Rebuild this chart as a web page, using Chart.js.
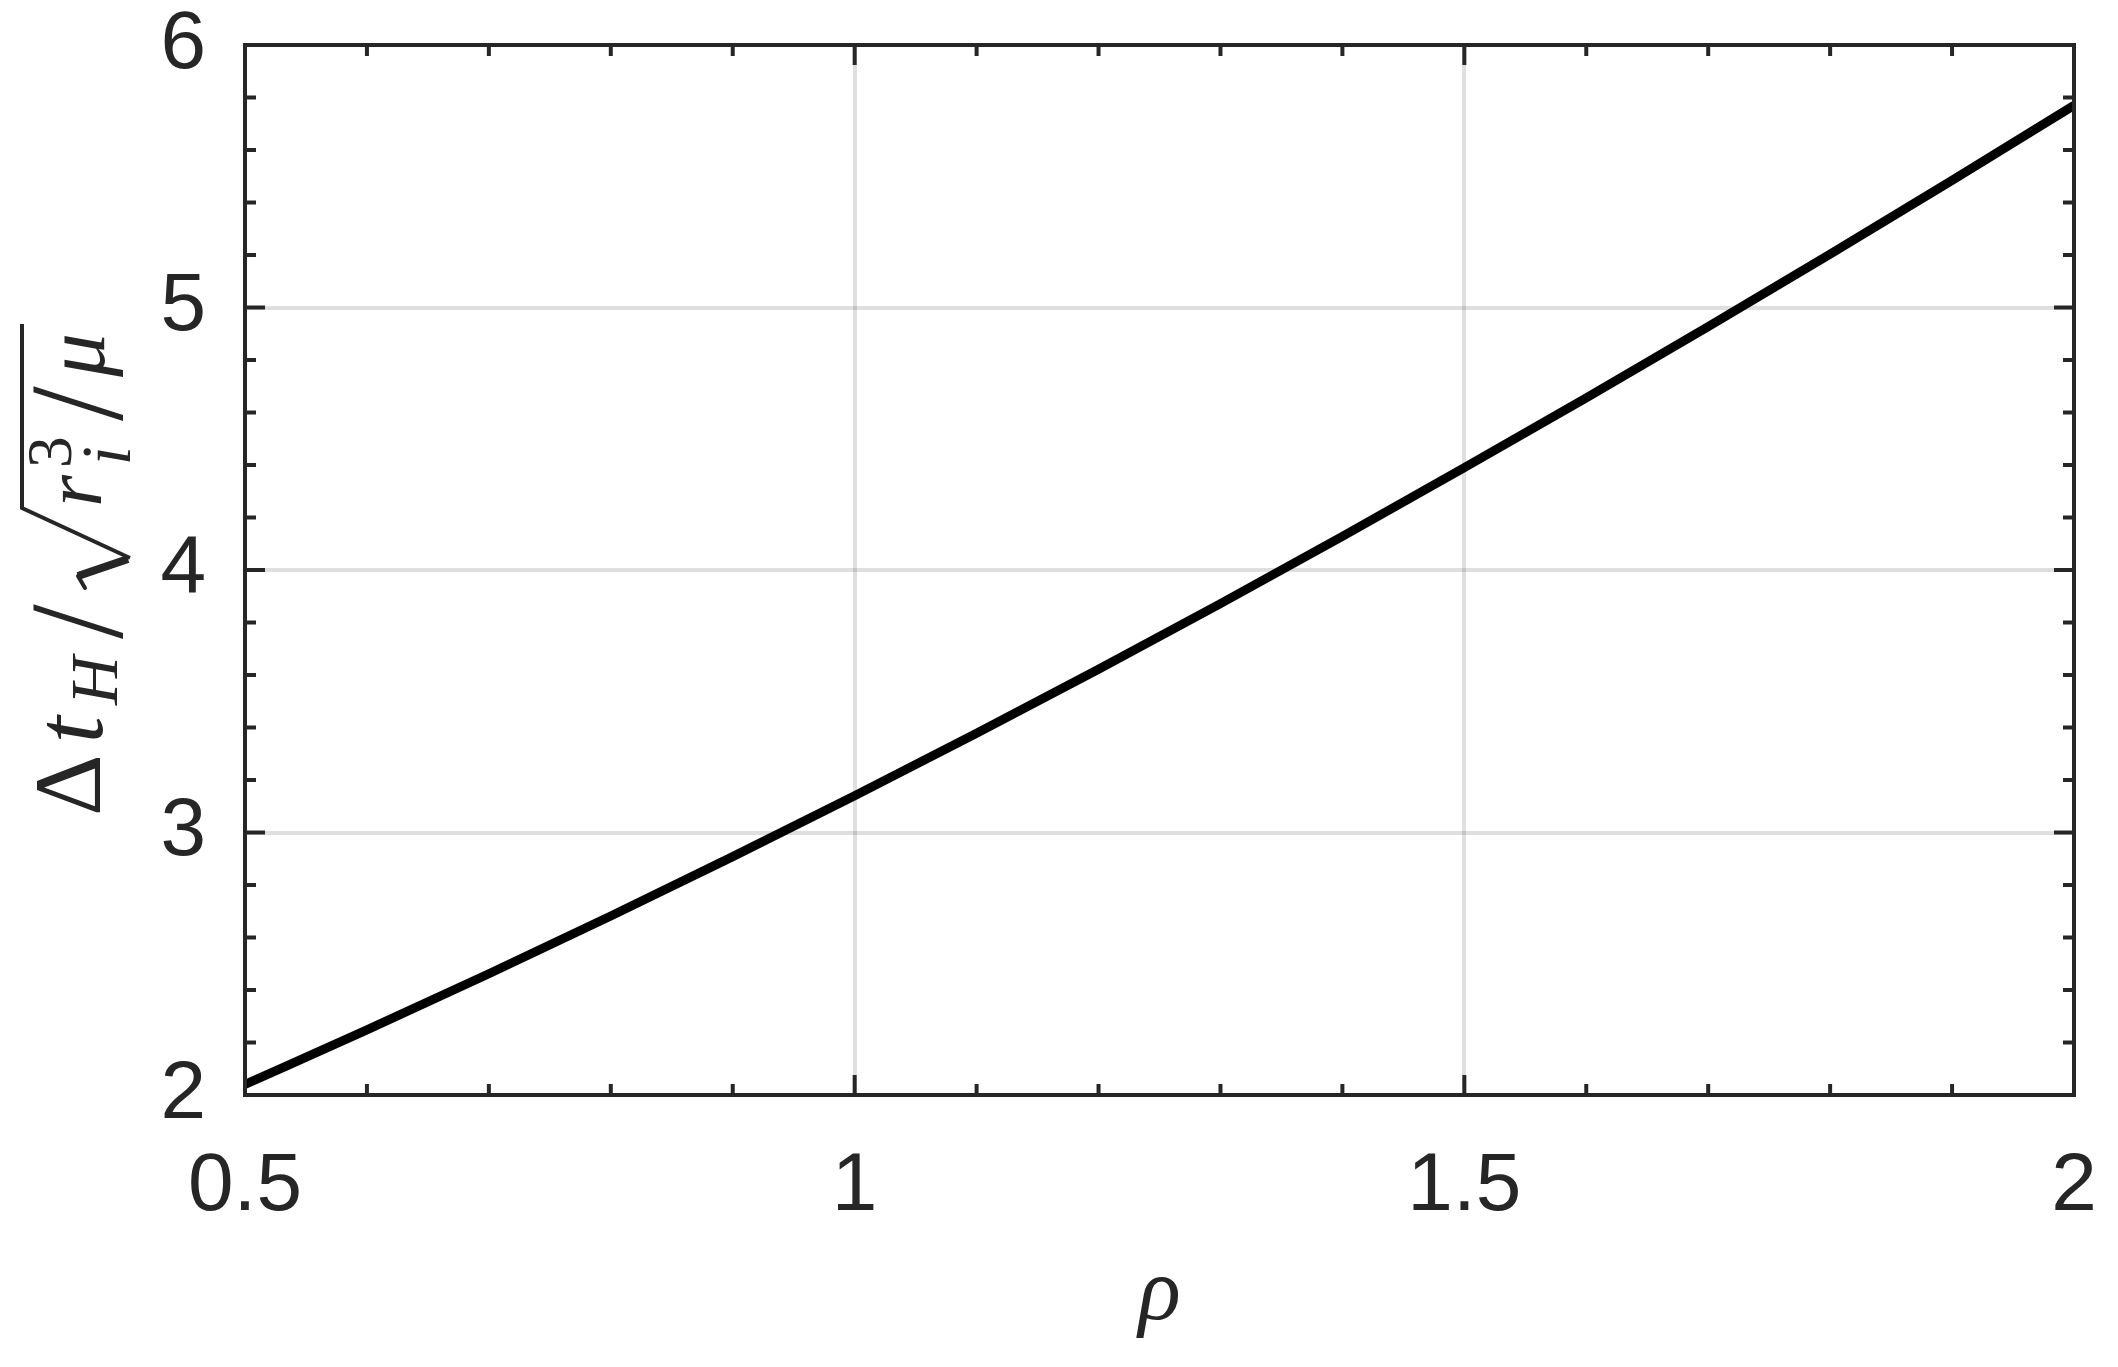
<!DOCTYPE html>
<html>
<head>
<meta charset="utf-8">
<script src="https://cdn.jsdelivr.net/npm/chart.js@4.4.1/dist/chart.umd.min.js"></script>
<style>
  html, body { margin: 0; padding: 0; background: #fff; }
  #wrap { width: 2118px; height: 1367px; }
</style>
</head>
<body>
<div id="wrap"><canvas id="chart" width="2118" height="1367"></canvas></div>
<script>
/* === DATA === */
const rho = [0.5, 0.6, 0.7, 0.8, 0.9, 1.0, 1.1, 1.2, 1.3, 1.4, 1.5, 1.6, 1.7, 1.8, 1.9, 2.0];
const dtH = [2.040, 2.248, 2.462, 2.682, 2.908, 3.140, 3.378, 3.622, 3.872, 4.128, 4.390, 4.656, 4.927, 5.203, 5.484, 5.770];
const xTicks = [0.5, 1, 1.5, 2];
const yTicks = [2, 3, 4, 5, 6];
const xMinorStep = 0.1;
const yMinorStep = 0.2;

const AXIS = '#262626';
const GRID = 'rgba(38, 38, 38, 0.15)';
const SANS = '"Liberation Sans", Arial, sans-serif';
const SERIF = '"Liberation Serif", "Times New Roman", serif';

/* === FRAME + INWARD TICKS ON ALL FOUR SIDES === */
const frameTicks = {
    id: 'frameTicks',
    afterDatasetsDraw(chart) {
        const { ctx, chartArea: a, scales: { x, y } } = chart;
        const seg = (x1, y1, x2, y2) => { ctx.beginPath(); ctx.moveTo(x1, y1); ctx.lineTo(x2, y2); ctx.stroke(); };
        ctx.save();
        ctx.strokeStyle = AXIS;
        ctx.lineWidth = 4;

        const nx = Math.round((x.max - x.min) / xMinorStep);
        for (let i = 0; i <= nx; i++) {
            const v = x.min + i * xMinorStep;
            const major = xTicks.some(t => Math.abs(t - v) < 1e-6);
            const len = major ? 20 : 11;
            const px = x.getPixelForValue(v);
            seg(px, a.bottom, px, a.bottom - len);
            seg(px, a.top, px, a.top + len);
        }
        const ny = Math.round((y.max - y.min) / yMinorStep);
        for (let i = 0; i <= ny; i++) {
            const v = y.min + i * yMinorStep;
            const major = yTicks.some(t => Math.abs(t - v) < 1e-6);
            const len = major ? 20 : 11;
            const py = y.getPixelForValue(v);
            seg(a.left, py, a.left + len, py);
            seg(a.right, py, a.right - len, py);
        }
        ctx.strokeRect(a.left, a.top, a.right - a.left, a.bottom - a.top);
        ctx.restore();
    }
};

/* === Y TITLE: Δt_H / sqrt(r_i^3 / μ) === */
const yTitle = {
    id: 'yTitle',
    afterDraw(chart) {
        const { ctx, chartArea: a } = chart;
        const baseX = 101;
        const startY = (a.top + a.bottom) / 2 + 243;
        ctx.save();
        ctx.translate(baseX, startY);
        ctx.rotate(-Math.PI / 2);
        ctx.fillStyle = AXIS;
        ctx.strokeStyle = AXIS;
        ctx.textBaseline = 'alphabetic';
        ctx.textAlign = 'left';

        // place a glyph so its ink box starts at u0 (along the text) and spans wTop..wBot
        // (w positive = below the baseline); stretch only when a width is given
        const put = (txt, font, u0, wTop, wBot, u1) => {
            ctx.font = font;
            const m = ctx.measureText(txt);
            const h = m.actualBoundingBoxAscent + m.actualBoundingBoxDescent;
            const sy = (wBot - wTop) / h;
            const sx = u1 ? (u1 - u0) / (m.actualBoundingBoxLeft + m.actualBoundingBoxRight) : sy;
            ctx.save();
            ctx.translate(u0 + m.actualBoundingBoxLeft * sx, wTop + m.actualBoundingBoxAscent * sy);
            ctx.scale(sx, sy);
            ctx.fillText(txt, 0, 0);
            ctx.restore();
        };
        put('\u0394', `96px ${SERIF}`, 0, -64, -1);
        put('t', `italic 92px ${SERIF}`, 74, -54, 2);
        put('H', `italic 66px ${SERIF}`, 107, -28, 16);
        put('/', `100px ${SERIF}`, 174, -66, 24, 209);

        // radical sign
        ctx.lineCap = 'round';
        ctx.lineWidth = 4;
        ctx.beginPath(); ctx.moveTo(225, -16); ctx.lineTo(237, -23); ctx.stroke();
        ctx.lineWidth = 8;
        ctx.lineCap = 'butt';
        ctx.beginPath(); ctx.moveTo(237, -23); ctx.lineTo(254, 27); ctx.stroke();
        ctx.lineWidth = 4;
        ctx.beginPath(); ctx.moveTo(255, 29); ctx.lineTo(305, -79); ctx.lineTo(489, -79); ctx.stroke();

        put('r', `italic 92px ${SERIF}`, 309, -38, 1);
        put('3', `62px ${SERIF}`, 347, -71, -29);
        put('i', `italic 66px ${SERIF}`, 351, -16, 29);
        put('/', `100px ${SERIF}`, 392, -66, 24, 427);
        put('\u03bc', `italic 92px ${SERIF}`, 435, -38, 21);
        ctx.restore();
    }
};

/* === CHART === */
const ctx = document.getElementById('chart');
new Chart(ctx, {
    type: 'line',
    data: {
        datasets: [{
            data: rho.map((r, i) => ({ x: r, y: dtH[i] })),
            borderColor: '#000000',
            borderWidth: 9,
            pointRadius: 0,
            fill: false,
            cubicInterpolationMode: 'monotone'
        }]
    },
    options: {
        responsive: false,
        animation: false,
        devicePixelRatio: 1,
        layout: { padding: { top: 45, right: 44, left: 0, bottom: 0 } },
        plugins: { legend: { display: false }, tooltip: { enabled: false } },
        scales: {
            x: {
                type: 'linear',
                min: 0.5, max: 2,
                afterBuildTicks: s => { s.ticks = xTicks.map(v => ({ value: v })); },
                afterFit: s => { s.height = 272; s.paddingLeft = 0; s.paddingRight = 0; },
                grid: { color: GRID, lineWidth: 4, drawTicks: false },
                border: { display: false },
                ticks: {
                    color: AXIS, padding: 43, maxRotation: 0, autoSkip: false,
                    font: { family: SANS, size: 82 },
                    callback: v => String(v)
                },
                title: {
                    display: true, text: '\u03c1', color: AXIS,
                    font: { family: SERIF, size: 88, style: 'italic' },
                    padding: { top: 0, bottom: 18 }
                }
            },
            y: {
                type: 'linear',
                min: 2, max: 6,
                afterBuildTicks: s => { s.ticks = yTicks.map(v => ({ value: v })); },
                afterFit: s => { s.width = 245; s.paddingTop = 0; s.paddingBottom = 0; },
                grid: { color: GRID, lineWidth: 4, drawTicks: false },
                border: { display: false },
                ticks: {
                    color: AXIS, padding: 39, autoSkip: false,
                    font: { family: SANS, size: 82 },
                    callback: v => String(v)
                }
            }
        }
    },
    plugins: [frameTicks, yTitle]
});
</script>
</body>
</html>
